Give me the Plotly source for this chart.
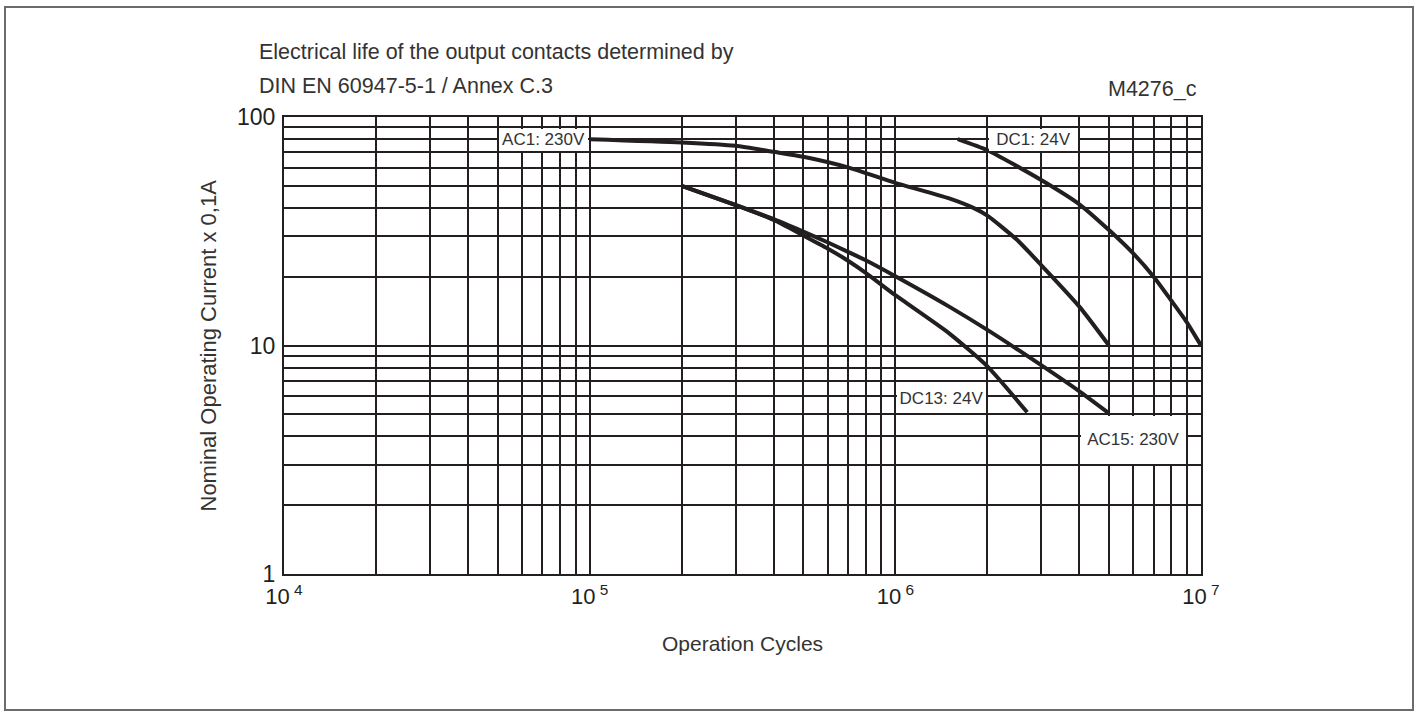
import plotly.graph_objects as go
import math

# ---------------- data ----------------
ac1_x = [1e5, 2e5, 3e5, 4e5, 5e5, 7e5, 1e6, 1.5e6, 1.8e6, 2e6, 2.5e6, 3e6, 4e6, 5e6]
ac1_y = [80, 77.4, 74.8, 70.4, 67, 60.2, 51.5, 44, 40, 37, 29, 22.5, 14.8, 10]

dc1_x = [1.6e6, 2e6, 3e6, 4e6, 5e6, 6e6, 7e6, 8e6, 9e6, 1e7]
dc1_y = [80, 71.5, 53, 41.5, 32, 25.3, 20, 15.7, 12.6, 10]

ac15_x = [2e5, 3e5, 4e5, 5e5, 6e5, 7e5, 8e5, 1e6, 1.5e6, 2e6, 3e6, 4e6, 5e6]
ac15_y = [50, 41.2, 35.7, 31.5, 28.3, 25.7, 23.6, 20.1, 14.8, 11.7, 8.2, 6.3, 5.05]

dc13_x = [2e5, 3e5, 4e5, 5e5, 6e5, 7e5, 8e5, 1e6, 1.5e6, 2e6, 2.7e6]
dc13_y = [50, 41.2, 35.4, 30.3, 26.6, 23.5, 20.8, 16.6, 11.3, 8.1, 5.1]

x_decades = [1e4, 1e5, 1e6, 1e7]
x_tick_labels = ["10<sup>&nbsp;4</sup>", "10<sup>&nbsp;5</sup>", "10<sup>&nbsp;6</sup>", "10<sup>&nbsp;7</sup>"]
y_decades = [1, 10, 100]
y_tick_labels = ["1", "10", "100"]

# curve labels: text, box corners (data units)
label_text = ["AC1: 230V", "DC1: 24V", "DC13: 24V", "AC15: 230V"]
label_x0 = [5e4, 2e6, 1e6, 4e6]
label_x1 = [1e5, 4e6, 2e6, 9e6]
label_y0 = [70, 70, 5, 3]
label_y1 = [90, 90, 7, 5]

title_lines = ["Electrical life of the output contacts determined by",
               "DIN EN 60947-5-1 / Annex C.3"]
code_label = "M4276_c"
x_title = "Operation Cycles"
y_title = "Nominal Operating Current x 0,1A"

# ---------------- styling ----------------
FONT = "Liberation Sans Narrow, Liberation Sans, Arial, sans-serif"
INK = "#231f20"
TXT = "#333333"

W, H = 1420, 718
ML, MR, MT, MB = 284, 219, 117, 144
PW = W - ML - MR
PH = H - MT - MB


def px_x(p):
    return (p - ML) / PW


def px_y(q):
    return (H - MB - q) / PH


def grid_vals(decades):
    vals = []
    for d in decades[:-1]:
        for m in range(1, 10):
            vals.append(d * m)
    vals.append(decades[-1])
    return vals


def grid_text(vals, decades, labels):
    return [labels[decades.index(v)] if v in decades else "" for v in vals]


xv = grid_vals(x_decades)
yv = grid_vals(y_decades)

fig = go.Figure()
for xs, ys in [(ac1_x, ac1_y), (dc1_x, dc1_y), (ac15_x, ac15_y), (dc13_x, dc13_y)]:
    fig.add_trace(go.Scatter(x=xs, y=ys, mode="lines",
                             line=dict(color=INK, width=4, shape="spline", smoothing=0.6),
                             hoverinfo="skip", showlegend=False))

ann = []
for t, x0, x1, y0, y1 in zip(label_text, label_x0, label_x1, label_y0, label_y1):
    lx0, lx1, ly0, ly1 = map(math.log10, (x0, x1, y0, y1))
    wpx = (lx1 - lx0) / 3 * PW - 3
    hpx = (ly1 - ly0) / 2 * PH - 3
    ann.append(dict(x=(lx0 + lx1) / 2, y=(ly0 + ly1) / 2, xref="x", yref="y",
                    text=t, showarrow=False, bgcolor="white", borderpad=0, borderwidth=0,
                    width=wpx, height=hpx, align="center", valign="middle",
                    font=dict(family=FONT, size=17, color=TXT)))

ann.append(dict(x=px_x(257), y=px_y(52), xref="paper", yref="paper", xanchor="left", yanchor="middle",
                text=title_lines[0], showarrow=False, font=dict(family=FONT, size=21.5, color=TXT)))
ann.append(dict(x=px_x(257), y=px_y(86), xref="paper", yref="paper", xanchor="left", yanchor="middle",
                text=title_lines[1], showarrow=False, font=dict(family=FONT, size=21.5, color=TXT)))
ann.append(dict(x=px_x(1199), y=px_y(89), xref="paper", yref="paper", xanchor="right", yanchor="middle",
                text=code_label, showarrow=False, font=dict(family=FONT, size=21.5, color=TXT)))
ann.append(dict(x=0.5, y=px_y(643), xref="paper", yref="paper", xanchor="center", yanchor="middle",
                text=x_title, showarrow=False, font=dict(family=FONT, size=21, color=TXT)))
ann.append(dict(x=px_x(208), y=0.5, xref="paper", yref="paper", xanchor="center", yanchor="middle",
                text=y_title, textangle=-90, showarrow=False, font=dict(family=FONT, size=22, color=TXT)))

fig.update_layout(
    width=W, height=H,
    margin=dict(l=ML, r=MR, t=MT, b=MB, autoexpand=False),
    paper_bgcolor="white", plot_bgcolor="white",
    annotations=ann,
    shapes=[dict(type="rect", xref="paper", yref="paper",
                 x0=px_x(5), x1=px_x(1413), y0=px_y(710), y1=px_y(7),
                 line=dict(color="#6b6b6b", width=2), fillcolor="rgba(0,0,0,0)", layer="below")],
)

fig.update_xaxes(type="log", range=[4, 7], tickvals=xv, ticktext=grid_text(xv, x_decades, x_tick_labels),
                 showgrid=True, gridcolor=INK, gridwidth=1.7, zeroline=False,
                 showline=True, linecolor=INK, linewidth=2, mirror=True, ticks="",
                 ticklabelstandoff=2,
                 tickfont=dict(family=FONT, size=22, color=INK))
fig.update_yaxes(type="log", range=[0, 2], tickvals=yv, ticktext=grid_text(yv, y_decades, y_tick_labels),
                 showgrid=True, gridcolor=INK, gridwidth=1.7, zeroline=False,
                 showline=True, linecolor=INK, linewidth=2, mirror=True, ticks="",
                 ticklabelstandoff=2,
                 tickfont=dict(family=FONT, size=23, color=INK))

fig.write_html("out.html", config={"displayModeBar": False},
               post_script="document.body.style.margin='0';document.body.style.overflow='hidden';")
